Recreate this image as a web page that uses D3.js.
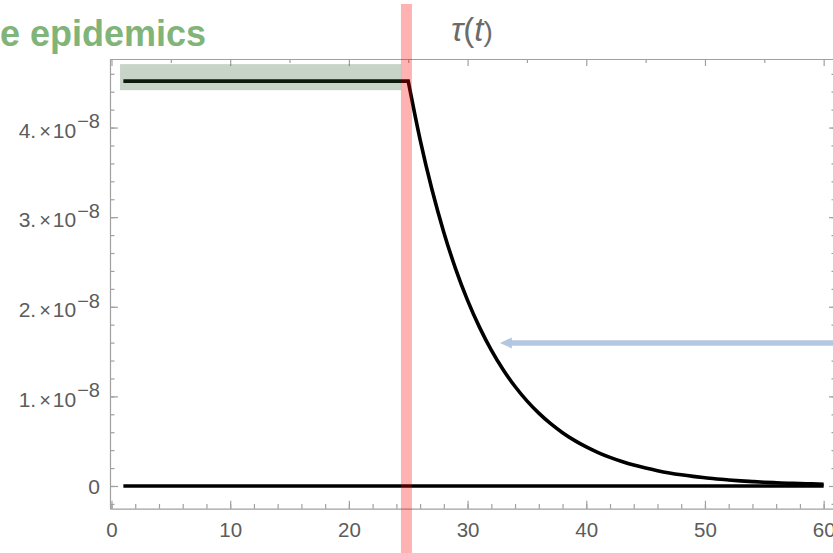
<!DOCTYPE html>
<html>
<head>
<meta charset="utf-8">
<script src="https://cdn.jsdelivr.net/npm/d3@7/dist/d3.min.js"></script>
<style>
  html, body { margin: 0; padding: 0; background: #fff; }
  svg { display: block; }
</style>
</head>
<body>
<svg id="chart" width="833" height="553"></svg>
<script>
// ---------------- data ----------------
const plateauT = [1, 25];
const plateauV = [4.518e-8, 4.518e-8];
const decayT = [25, 26, 27, 28, 29, 30, 31, 32, 33, 34, 35, 36, 37, 38, 39, 40, 41, 42, 43, 44, 45,
                46, 47, 48, 49, 50, 51, 52, 53, 54, 55, 56, 57, 58, 59, 60];
const decayV = [4.518e-8, 3.866e-8, 3.308e-8, 2.830e-8, 2.421e-8, 2.072e-8, 1.773e-8, 1.517e-8,
                1.298e-8, 1.110e-8, 0.950e-8, 0.813e-8, 0.695e-8, 0.595e-8, 0.509e-8, 0.436e-8, 0.373e-8,
                0.319e-8, 0.273e-8, 0.233e-8, 0.200e-8, 0.171e-8, 0.146e-8, 0.125e-8, 0.107e-8, 0.092e-8,
                0.078e-8, 0.067e-8, 0.057e-8, 0.049e-8, 0.042e-8, 0.036e-8, 0.031e-8, 0.026e-8, 0.023e-8,
                0.019e-8];
const zeroT = [1, 60];
const zeroV = [0, 0];

const bandT = [0.72, 24.4];            // green band (time extent)
const bandV = [4.417e-8, 4.708e-8];    // green band (value extent)
const markerT = 24.85;                 // red vertical marker
const arrowT = [32.72, 62];            // blue arrow: tip, tail
const arrowV = 1.596e-8;

const xMajorTicks = [0, 10, 20, 30, 40, 50, 60];
const xMinorTicks = d3.range(0, 61, 2);
const xTopMajor = [0, 10, 20, 30, 40, 50, 60];
const xTopMinor = [5, 15, 25, 35, 45, 55];
const yMajorTicks = [0, 1e-8, 2e-8, 3e-8, 4e-8];
const yMinorTicks = [-0.2, 0, 0.2, 0.4, 0.6, 0.8, 1, 1.2, 1.4, 1.6, 1.8, 2, 2.2, 2.4, 2.6, 2.8, 3, 3.2,
                     3.4, 3.6, 3.8, 4, 4.2, 4.4, 4.6].map(d => d * 1e-8);
const yTickMantissa = ["0", "1.", "2.", "3.", "4."];

const titleText = "e epidemics";
// ---------------------------------------

const svg = d3.select("#chart");
const x = d3.scaleLinear().domain([-0.126, 61.04]).range([110, 836]);
const y = d3.scaleLinear().domain([-0.2535e-8, 4.765e-8]).range([508.7, 59]);

const frameColor = "#a0a0a0";
const labelColor = "#5c5c5c";
const font = "'Liberation Sans', Arial, sans-serif";

// ---- axes / frame ----
function styleAxis(g) {
  g.select(".domain").attr("stroke", frameColor).attr("stroke-width", 1.2);
  g.selectAll(".tick line").attr("stroke", frameColor).attr("stroke-width", 1.2);
  g.selectAll("text").attr("fill", labelColor).style("font-family", font).style("font-size", "20px");
}

// bottom
svg.append("g").attr("transform", `translate(0,${y.range()[0]})`)
  .call(d3.axisBottom(x).tickValues(xMinorTicks).tickSize(-4.7).tickSizeOuter(0).tickFormat(""))
  .call(styleAxis);
const xAxisG = svg.append("g").attr("transform", `translate(0,${y.range()[0]})`)
  .call(d3.axisBottom(x).tickValues(xMajorTicks).tickSize(-8).tickSizeOuter(0).tickPadding(14).tickFormat(d3.format("d")))
  .call(styleAxis);
xAxisG.select(".domain").remove();
xAxisG.selectAll("text").style("font-size", "20.5px");

// top
svg.append("g").attr("transform", `translate(0,${y.range()[1]})`)
  .call(d3.axisTop(x).tickValues(xTopMinor).tickSize(-4).tickSizeOuter(0).tickFormat(""))
  .call(styleAxis);
svg.append("g").attr("transform", `translate(0,${y.range()[1]})`)
  .call(d3.axisTop(x).tickValues(xTopMajor).tickSize(-7).tickSizeOuter(0).tickFormat(""))
  .call(styleAxis);

// left
svg.append("g").attr("transform", `translate(${x.range()[0]},0)`)
  .call(d3.axisLeft(y).tickValues(yMinorTicks).tickSize(-4.5).tickSizeOuter(0).tickFormat(""))
  .call(styleAxis);
const yAxisG = svg.append("g").attr("transform", `translate(${x.range()[0]},0)`)
  .call(d3.axisLeft(y).tickValues(yMajorTicks).tickSize(-8).tickSizeOuter(0).tickPadding(10).tickFormat(""))
  .call(styleAxis);
yAxisG.select(".domain").remove();

// right
svg.append("g").attr("transform", `translate(${x.range()[1]},0)`)
  .call(d3.axisRight(y).tickValues(yMinorTicks).tickSize(-4.5).tickSizeOuter(0).tickFormat(""))
  .call(styleAxis);
svg.append("g").attr("transform", `translate(${x.range()[1]},0)`)
  .call(d3.axisRight(y).tickValues(yMajorTicks).tickSize(-7).tickSizeOuter(0).tickFormat(""))
  .call(styleAxis);

// y tick labels with scientific notation
yAxisG.selectAll(".tick").each(function(d, i) {
  const t = d3.select(this).select("text");
  t.attr("x", -10).attr("text-anchor", "end").attr("dy", null).style("font-size", "21px");
  if (d === 0) {
    t.attr("y", 7.3).text(yTickMantissa[i]);
  } else {
    t.attr("y", 9.8).text(null);
    t.append("tspan").text(yTickMantissa[i]);
    t.append("tspan").attr("dx", 3).style("font-size", "20px").text("×");
    t.append("tspan").attr("dx", 2).text("10");
    t.append("tspan").attr("dx", 1).attr("dy", -9.5).style("font-size", "20px").text("−8");
  }
});

// ---- data marks ----
const lineLin = d3.line().x(d => x(d[0])).y(d => y(d[1]));
const lineSmooth = d3.line().x(d => x(d[0])).y(d => y(d[1])).curve(d3.curveMonotoneX);

svg.append("path")
  .attr("d", lineLin(zeroT.map((t, i) => [t, zeroV[i]])))
  .attr("fill", "none").attr("stroke", "#000").attr("stroke-width", 3.6);

const tauPath = lineLin(plateauT.map((t, i) => [t, plateauV[i]])) +
  lineSmooth(decayT.map((t, i) => [t, decayV[i]])).replace(/^M/, "L");
svg.append("path")
  .attr("d", tauPath).attr("fill", "none").attr("stroke", "#000").attr("stroke-width", 3.6)
  .attr("stroke-linejoin", "miter");

// green band
svg.append("rect")
  .attr("x", x(bandT[0])).attr("width", x(bandT[1]) - x(bandT[0]))
  .attr("y", y(bandV[1])).attr("height", y(bandV[0]) - y(bandV[1]))
  .attr("fill", "#2f5f2f").attr("fill-opacity", 0.27);

// red marker
svg.append("rect")
  .attr("x", x(markerT) - 5.5).attr("width", 11)
  .attr("y", 4).attr("height", 560)
  .attr("fill", "#ff0000").attr("fill-opacity", 0.3);

// blue arrow
const ax0 = x(arrowT[0]), ax1 = x(arrowT[1]), ay = y(arrowV);
svg.append("line")
  .attr("x1", ax0 + 8).attr("x2", ax1).attr("y1", ay).attr("y2", ay)
  .attr("stroke", "#b4c7e0").attr("stroke-width", 5.5);
svg.append("path")
  .attr("d", `M${ax0},${ay} L${ax0 + 12},${ay - 5.5} L${ax0 + 12},${ay + 5.5} Z`)
  .attr("fill", "#b4c7e0");

// ---- titles ----
svg.append("text")
  .attr("x", 206).attr("y", 45.5).attr("text-anchor", "end")
  .style("font-family", font).style("font-weight", "bold").style("font-size", "36px")
  .attr("fill", "#80b478").text(titleText);

const tauLabel = svg.append("text")
  .attr("x", 451).attr("y", 41)
  .style("font-family", font).style("font-size", "33px").attr("fill", "#6b6b6b");
tauLabel.append("tspan").style("font-style", "italic").text("τ");
tauLabel.append("tspan").text("(");
tauLabel.append("tspan").style("font-style", "italic").text("t");
tauLabel.append("tspan").style("font-size", "28px").text(")");
</script>
</body>
</html>
